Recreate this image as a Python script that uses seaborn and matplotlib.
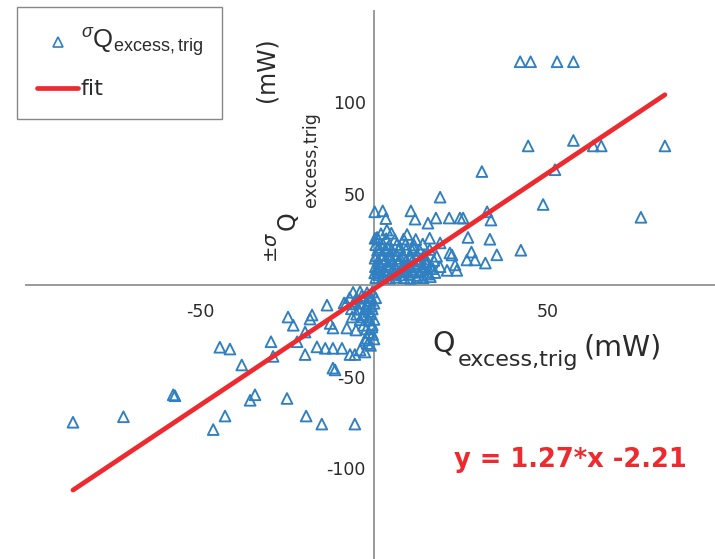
import matplotlib
matplotlib.use("Agg")
import matplotlib.pyplot as plt
import seaborn as sns
import pandas as pd
import numpy as np
from matplotlib.lines import Line2D

# ---------------- data ----------------
x_sparse_pos = [42, 45, 52.6, 57.3, 44.3, 57.3, 63, 65.3, 83.6, 31, 52, 48.6, 19, 76.7,
                42.2, 35.3, 33.3, 32.5, 33.6, 32, 27, 26.7, 29, 28, 24.7, 25.6, 21.6,
                17.8, 15.5, 11.8, 10.6, 2.5, 3.4, 22.4, 23.8, 21]
y_sparse_pos = [122, 122, 122, 122, 76, 79, 76, 76, 76, 62, 63, 44, 48, 37,
                19, 16.5, 25, 40, 35.5, 12, 26, 13.7, 13.7, 18, 36.6, 36.6, 36.6,
                36.6, 33.8, 36, 40.5, 40.5, 36.3, 16.4, 8, 8]

x_dense_pos = [0.5, 2.5, 4.5, 6.4, 8.6, 10.5, 12.3, 14.1, 16.2,
               1.0, 3.1, 5.0, 7.2, 9.0, 11.1, 13.0, 15.2, 17.5,
               0.4, 2.0, 4.1, 6.0, 8.2, 10.0, 12.1, 14.0, 16.1, 19.0,
               1.1, 3.0, 5.2, 7.0, 9.1, 11.0, 13.2, 15.0, 17.2,
               0.6, 2.4, 4.6, 6.5, 8.4, 10.6, 12.5, 14.4, 18.0,
               1.0, 3.2, 5.1, 7.1, 9.2, 11.0, 13.1, 16.0,
               0.5, 2.6, 4.4, 6.6, 9.0, 11.5, 14.0,
               1.2, 3.5, 6.0, 8.5, 12.0, 16.0,
               2.0, 5.0, 9.5, 0.9, 3.7, 19.0, 21.8, 23.3,
               1.5, 3.6, 5.8, 7.9, 10.1, 12.9, 15.5,
               0.8, 2.9, 5.5, 8.0, 10.9, 13.8, 16.9,
               1.7, 4.0, 6.9, 9.8, 12.6, 15.1,
               0.3, 2.2, 4.9, 7.6, 10.4, 13.5,
               1.4, 3.9, 7.4, 11.3, 0.2, 0.3, 0.2]
y_dense_pos = [4.0, 4.5, 3.8, 4.2, 4.0, 3.6, 4.3, 4.0, 4.5,
               7.0, 7.3, 6.8, 7.1, 7.4, 6.9, 7.2, 7.0, 6.8,
               10.0, 10.4, 9.8, 10.2, 10.0, 10.5, 9.9, 10.1, 10.3, 10.0,
               13.0, 12.8, 13.3, 13.1, 12.9, 13.2, 13.0, 12.7, 13.4,
               16.0, 16.2, 15.8, 16.3, 16.1, 15.9, 16.0, 16.4, 15.7,
               19.0, 19.3, 18.8, 19.1, 19.2, 18.9, 19.0, 19.4,
               22.0, 22.3, 21.8, 22.1, 22.2, 21.9, 22.4,
               25.0, 25.3, 24.8, 25.1, 24.9, 25.6,
               28.0, 28.3, 27.6, 26.0, 30.0, 23.0, 17.5, 11.0,
               5.6, 5.4, 5.8, 5.5, 5.7, 5.3, 5.9,
               8.6, 8.4, 8.8, 8.5, 8.7, 8.3, 8.9,
               11.6, 11.4, 11.8, 11.5, 11.7, 11.3,
               14.6, 14.4, 14.8, 14.5, 14.7, 14.3,
               20.6, 20.4, 20.8, 20.5, 6.6, 25.5, 40.0]

x_sparse_neg = [-86.5, -72, -57.7, -57.2, -46.2, -42.8, -44.3, -41.4, -38, -35.6, -34.2,
                -29.6, -29, -25, -19.5, -15, -5.5, -11.2, -24.7, -23.2, -22.1, -19.8,
                -17.8, -18.4, -19.8, -16.4, -13.5, -8.6, -14, -11.8, -9.2, -6.9, -5.5,
                -4, -2.6, -2.6, -12.6, -11.8, -7.8, -5.2, -0.6, -11.8, -6.3]
y_sparse_neg = [-75, -72, -60, -60.5, -79, -71.6, -34, -35, -43.7, -63, -60,
                -31, -39, -62, -71.6, -76, -76, -46.4, -17.5, -22, -31, -38,
                -16.4, -18.6, -25.7, -33.8, -11, -9.8, -34.6, -34.6, -34.6, -38, -38,
                -35.5, -30, -36.6, -21, -23.5, -23.5, -24.6, -23, -45.4, -17.5]

x_dense_neg = [-6.0, -4.0, -2.0, -0.5,
               -7.0, -5.0, -3.0, -1.0, 0.5,
               -8.0, -6.0, -4.0, -2.0, 0.0,
               -6.5, -4.5, -2.5, -0.5,
               -5.0, -3.0, -1.0,
               -4.0, -1.5, 0.0,
               -3.0, -0.5, -1.5, -2.0, 0.0, -1.0,
               -1.2, -1.0, -0.8, -1.5, -3.2, -2.2, -0.4, -5.5, -3.5, -1.8]
y_dense_neg = [-4.0, -3.6, -4.2, -3.8,
               -7.0, -7.3, -6.8, -7.1, -7.0,
               -10.0, -10.4, -9.8, -10.2, -10.0,
               -13.0, -13.3, -12.8, -13.1,
               -16.0, -16.3, -15.8,
               -19.0, -19.2, -18.8,
               -22.0, -21.8, -26.0, -29.0, -29.5, -33.0,
               -5.5, -8.5, -11.5, -14.5, -17.5, -24.0, -27.0, -8.8, -5.8, -32.0]

slope = 1.27
intercept = -2.21

x_ticks = [-100, -50, 0, 50, 100]
x_tick_labels = ["", "-50", "", "50", ""]
y_ticks = [-150, -100, -50, 0, 50, 100, 150]
y_tick_labels = ["", "-100", "-50", "", "50", "100", ""]

legend_labels = [r"$^{\sigma}$Q$_{\mathregular{excess,trig}}$", "fit"]
x_label_parts = ["Q", "excess,trig", "(mW)"]
y_label_parts = [r"$\pm\sigma$", "Q", "excess,trig", "(mW)"]

# ---------------- styling ----------------
sns.set_theme(style="white")
plt.rcParams["font.family"] = ["DejaVu Sans"]
plt.rcParams["mathtext.fontset"] = "dejavusans"
plt.rcParams["mathtext.rm"] = "Liberation Sans"
plt.rcParams["mathtext.it"] = "Liberation Sans:italic"
plt.rcParams["mathtext.bf"] = "Liberation Sans:bold"

blue = "#2f7fc1"
red = "#ee2a2f"
axis_gray = "#9a9a9a"
text_gray = "#2b2b2b"

df = pd.DataFrame({
    "x": x_sparse_pos + x_dense_pos + x_sparse_neg + x_dense_neg,
    "y": y_sparse_pos + y_dense_pos + y_sparse_neg + y_dense_neg,
})
xf = np.array([df["x"].min(), df["x"].max()])
fit_df = pd.DataFrame({"x": xf, "y": slope * xf + intercept})

fig = plt.figure(figsize=(7.15, 5.59), dpi=100)
ax = fig.add_axes([26 / 715, -0.0009, 696 / 715, 0.9821])

sns.scatterplot(data=df, x="x", y="y", ax=ax, marker="^", s=60,
                facecolor="none", edgecolor=blue, linewidth=1.35, legend=False,
                zorder=3)
sns.lineplot(data=fit_df, x="x", y="y", ax=ax, color=red, linewidth=3.4,
             legend=False, zorder=4)

ax.set_xlim(-100, 100)
ax.set_ylim(-150, 150)

for side in ["top", "right"]:
    ax.spines[side].set_visible(False)
for side in ["left", "bottom"]:
    ax.spines[side].set_position(("data", 0))
    ax.spines[side].set_color(axis_gray)
    ax.spines[side].set_linewidth(1.4)

ax.set_xticks(x_ticks)
ax.set_xticklabels(x_tick_labels)
ax.set_yticks(y_ticks)
ax.set_yticklabels(y_tick_labels)
ax.tick_params(axis="x", direction="in", length=5, width=1.2, color=axis_gray,
               labelsize=12.5, labelcolor=text_gray, pad=13)
ax.tick_params(axis="y", direction="in", length=5, width=1.2, color=axis_gray,
               labelsize=12.5, labelcolor=text_gray, pad=6)
ax.set_xlabel("")
ax.set_ylabel("")

# x label (Q, subscript, unit)
xl_pos = [(16.7, -36.1), (24.1, -44.3), (60.3, -38.3)]
xl_size = [20.5, 16, 20.5]
for s, (px, py), fs in zip(x_label_parts, xl_pos, xl_size):
    ax.text(px, py, s, ha="left", va="baseline", fontsize=fs, color=text_gray)

# y label (rotated pieces)
yl_pos = [(-27.9, 12.0), (-22.7, 30.0), (-16.7, 42.6), (-29.0, 100.0)]
yl_size = [14, 17, 12.5, 17]
for s, (px, py), fs in zip(y_label_parts, yl_pos, yl_size):
    ax.text(px, py, s, ha="left", va="baseline", rotation=90,
            rotation_mode="anchor", fontsize=fs, color=text_gray,
            math_fontfamily="dejavusans")

ax.text(56.3, -95.5, f"y = {slope}*x {intercept}", ha="center", va="center",
        fontsize=18.5, fontweight="bold", color=red)

handles = [
    Line2D([], [], linestyle="none", marker="^", markersize=6.5,
           markerfacecolor="none", markeredgecolor=blue, markeredgewidth=1.2),
    Line2D([], [], color=red, linewidth=3.4),
]
leg = fig.legend(handles, legend_labels, loc="upper left",
                 bbox_to_anchor=(17 / 715, 1 - 7 / 559), fontsize=15,
                 frameon=True, fancybox=False, framealpha=1, edgecolor="#888888",
                 handlelength=2.0, handletextpad=0.1, borderpad=0.95,
                 labelspacing=0.95, borderaxespad=0)
leg.get_frame().set_linewidth(1.0)
texts = leg.get_texts()
texts[0].set_fontfamily("Liberation Sans")
texts[0].set_math_fontfamily("custom")
texts[0].set_fontsize(18.5)
texts[1].set_fontsize(16)
for t in texts:
    t.set_color(text_gray)

fig.savefig("out.png", dpi=100)
